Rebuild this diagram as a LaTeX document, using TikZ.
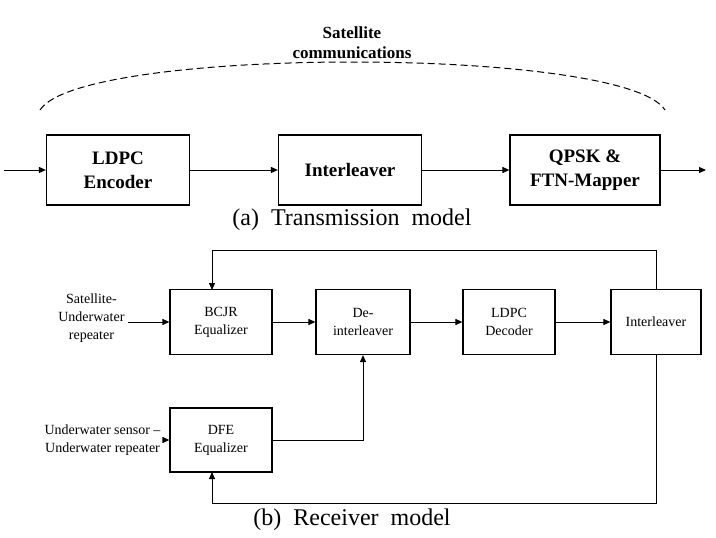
\documentclass[tikz,border=0pt]{standalone}
\usepackage{fontspec}
\setmainfont{Liberation Serif}
\usetikzlibrary{arrows.meta}
\begin{document}
\begin{tikzpicture}[x=1pt,y=-1pt,
 box/.style={draw,line width=1.2pt,inner sep=0pt},
 tb/.style={box,minimum width=143pt,minimum height=70pt,font=\fontsize{19}{24}\selectfont\bfseries,align=center},
 bb/.style={box,minimum width=98pt,minimum height=65pt,font=\fontsize{14}{18}\selectfont,align=center},
 ar/.style={-{Triangle[length=7pt,width=6pt]},line width=1pt},
 lab/.style={font=\fontsize{14}{18}\selectfont,align=center}]
\useasboundingbox (0,0) rectangle (716,538);
% top
\node[tb] (enc) at (118,170) {LDPC\\Encoder};
\node[tb] (int) at (350,170) {Interleaver};
\node[tb,minimum width=150pt] (qpsk) at (585,170) {QPSK \&\\FTN-Mapper};
\coordinate (in) at (4,170); \coordinate (out) at (706,170);
\draw[ar] (in) -- (enc); \draw[ar] (enc) -- (int); \draw[ar] (int) -- (qpsk); \draw[ar] (qpsk) -- (out);
\coordinate (d1) at (40,110); \coordinate (d2) at (665,110);
\draw[line width=1pt,dash pattern=on 7pt off 4pt] (d1) .. controls (80,46) and (625,46) .. (d2);
\node[font=\fontsize{17}{20}\selectfont\bfseries,align=center] (sat) at (352,43) {Satellite\\communications};
\node[font=\fontsize{24}{28}\selectfont] (capa) at (352,220) {(a)\ \ Transmission\ \ model};
% bottom
\node[bb,minimum width=102pt] (bcjr) at (221,322) {BCJR\\Equalizer};
\node[bb,minimum width=94pt] (deint) at (363,322) {De-\\interleaver};
\node[bb,minimum width=92pt] (ldec) at (509,322) {LDPC\\Decoder};
\node[bb,minimum width=90pt] (rint) at (656,322) {Interleaver};
\node[bb,minimum width=102pt,minimum height=64pt] (dfe) at (221,440) {DFE\\Equalizer};
\node[lab,anchor=east] (l1) at (128,318) {Satellite-\\Underwater\\repeater};
\node[lab,anchor=east] (l2) at (164,440) {Underwater sensor --\\Underwater repeater};
\draw[ar] (l1.east|-bcjr) -- (bcjr);
\draw[ar] (l2) -- (dfe);
\draw[ar] (bcjr) -- (deint); \draw[ar] (deint) -- (ldec); \draw[ar] (ldec) -- (rint);
\draw[ar] (rint.north) |- (212,250) -- (212,290);
\draw[ar] (rint.south) |- (212,503) -- (212,472);
\draw[ar] (dfe.east) -| (deint.south);
\node[font=\fontsize{24}{28}\selectfont] (capb) at (352,520) {(b)\ \ Receiver\ \ model};
\end{tikzpicture}
\end{document}
